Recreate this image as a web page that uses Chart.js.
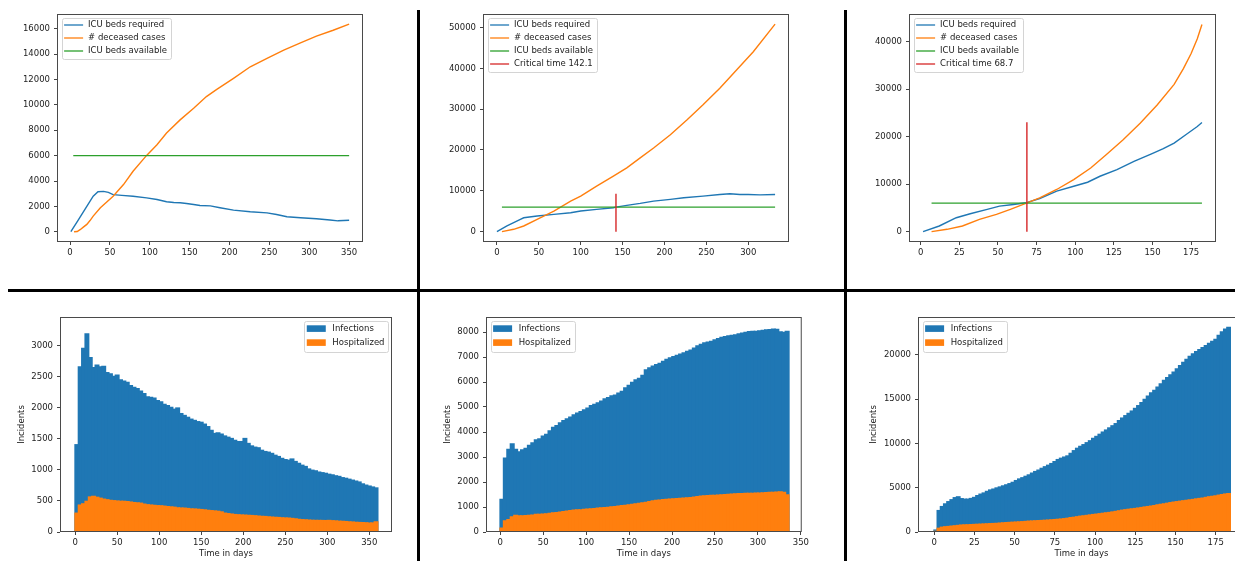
<!DOCTYPE html>
<html>
<head>
<meta charset="utf-8">
<script src="https://cdn.jsdelivr.net/npm/chart.js@4.4.1/dist/chart.umd.min.js"></script>
<style>
  html, body { margin: 0; padding: 0; background: #fff; overflow: hidden; }
  #page { position: relative; width: 1235px; height: 561px; overflow: hidden; background: #fff; }
  #page canvas { position: absolute; }
  .rule { position: absolute; background: #000; }
</style>
</head>
<body>
<div id="page">
  <canvas id="icuA"></canvas>
  <canvas id="icuB"></canvas>
  <canvas id="icuC"></canvas>
  <canvas id="histA"></canvas>
  <canvas id="histB"></canvas>
  <canvas id="histC"></canvas>
  <div class="rule" style="left:417px;top:10px;width:3px;height:551px"></div>
  <div class="rule" style="left:844px;top:10px;width:3px;height:551px"></div>
  <div class="rule" style="left:8px;top:289px;width:1227px;height:3px"></div>
</div>
<script>
// --- ICU SCENARIO A ---
const icuADays = [1, 10, 20, 29, 35, 42, 48, 54, 65, 79, 96, 109, 121, 130, 138, 146, 155, 163, 176, 188, 205, 226, 247, 259, 272, 289, 309, 326, 336, 350];
const icuA = [0, 900, 1900, 2800, 3150, 3180, 3100, 2930, 2870, 2800, 2670, 2540, 2360, 2300, 2280, 2230, 2150, 2070, 2040, 1890, 1700, 1570, 1490, 1360, 1180, 1100, 1020, 920, 860, 900];
const deadADays = [5, 9, 13, 17, 21, 25, 29, 38, 46, 54, 67, 79, 96, 109, 121, 138, 155, 171, 184, 205, 226, 247, 268, 289, 309, 330, 350];
const deadA = [0, 20, 180, 380, 580, 880, 1230, 1890, 2350, 2800, 3720, 4770, 6020, 6860, 7780, 8820, 9740, 10660, 11230, 12100, 13010, 13670, 14320, 14900, 15420, 15890, 16370];
const bedsADays = [4, 350];

// --- ICU SCENARIO B ---
const icuBDays = [0, 12, 28, 32, 48, 68, 88, 100, 119, 139, 142, 155, 171, 187, 207, 223, 246, 266, 278, 290, 300, 314, 332];
const icuB = [0, 1380, 3000, 3400, 3820, 4230, 4630, 5040, 5450, 5850, 6000, 6420, 6910, 7480, 7890, 8290, 8700, 9110, 9270, 9110, 9110, 9000, 9110];
const deadBDays = [6, 20, 32, 48, 68, 88, 100, 119, 139, 155, 171, 187, 207, 227, 246, 266, 286, 306, 332];
const deadB = [0, 570, 1380, 3000, 5040, 7480, 8700, 11140, 13580, 15610, 18050, 20490, 23740, 27400, 31060, 35120, 39590, 44070, 50810];
const bedsBDays = [6, 332];
const criticalB = 142.1;
const criticalBTop = 9300;

// --- ICU SCENARIO C ---
const icuCDays = [1.5, 12, 23, 32, 43, 51, 60, 68, 77, 88, 99, 108, 116, 127, 138, 149, 157, 164, 172, 179, 182];
const icuC = [0, 1190, 2930, 3770, 4680, 5380, 5720, 6070, 6980, 8520, 9560, 10400, 11660, 13050, 14800, 16330, 17450, 18640, 20500, 22130, 22970];
const deadCDays = [7, 17, 27, 38, 49, 58, 68, 77, 88, 99, 110, 120, 131, 142, 153, 164, 170, 175, 179, 182];
const deadC = [0, 490, 1190, 2580, 3630, 4680, 5930, 7120, 8870, 10960, 13400, 16200, 19340, 22830, 26670, 31000, 34300, 37500, 40600, 43600];
const bedsCDays = [7, 182];
const criticalC = 68.7;
const criticalCTop = 23000;

const bedsAvailable = 6000;

// --- DAILY INCIDENTS, SCENARIO A (4-day bins) ---
const histADays = [2, 6, 10, 14, 18, 22, 26, 30, 34, 38, 42, 46, 50, 54, 58, 62, 66, 70, 74, 78, 82, 86, 90, 94, 98, 102, 106, 110, 114, 118, 122, 126, 130, 134, 138, 142, 146, 150, 154, 158, 162, 166, 170, 174, 178, 182, 186, 190, 194, 198, 202, 206, 210, 214, 218, 222, 226, 230, 234, 238, 242, 246, 250, 254, 258, 262, 266, 270, 274, 278, 282, 286, 290, 294, 298, 302, 306, 310, 314, 318, 322, 326, 330, 334, 338, 342, 346, 350, 354, 358];
const infectA = [
  1400, 2650, 2950, 3180, 2800, 2640, 2680, 2650, 2660, 2560,
  2540, 2500, 2520, 2440, 2420, 2400, 2350, 2320, 2300, 2260,
  2220, 2170, 2160, 2150, 2110, 2090, 2050, 2030, 2000, 1970,
  1990, 1900, 1870, 1840, 1810, 1790, 1770, 1760, 1730, 1690,
  1630, 1580, 1590, 1570, 1540, 1520, 1500, 1470, 1450, 1450,
  1500, 1420, 1380, 1360, 1350, 1310, 1290, 1280, 1260, 1230,
  1210, 1180, 1160, 1150, 1170, 1130, 1100, 1070, 1050, 1010,
  990, 980, 960, 950, 940, 925, 915, 900, 890, 870,
  860, 845, 830, 815, 800, 770, 750, 735, 720, 705];
const hospA = [
  300, 430, 450, 490, 560, 570, 555, 540, 525, 515,
  505, 500, 495, 490, 490, 485, 478, 470, 465, 460,
  445, 435, 430, 425, 420, 418, 412, 405, 400, 395,
  385, 382, 380, 375, 368, 366, 362, 358, 352, 345,
  340, 335, 330, 320, 300, 292, 285, 278, 274, 270,
  268, 264, 262, 258, 252, 248, 246, 240, 236, 232,
  230, 225, 222, 220, 215, 208, 200, 195, 192, 188,
  185, 183, 183, 182, 180, 183, 178, 175, 170, 168,
  165, 160, 157, 152, 150, 148, 145, 140, 142, 160];

// --- DAILY INCIDENTS, SCENARIO B (4-day bins) ---
const histBDays = [2, 6, 10, 14, 18, 22, 26, 30, 34, 38, 42, 46, 50, 54, 58, 62, 66, 70, 74, 78, 82, 86, 90, 94, 98, 102, 106, 110, 114, 118, 122, 126, 130, 134, 138, 142, 146, 150, 154, 158, 162, 166, 170, 174, 178, 182, 186, 190, 194, 198, 202, 206, 210, 214, 218, 222, 226, 230, 234, 238, 242, 246, 250, 254, 258, 262, 266, 270, 274, 278, 282, 286, 290, 294, 298, 302, 306, 310, 314, 318, 322, 326, 330, 334];
const infectB = [
  1300, 2950, 3300, 3520, 3300, 3200, 3280, 3340, 3460, 3560,
  3680, 3720, 3830, 3900, 4040, 4180, 4250, 4360, 4450, 4520,
  4590, 4680, 4750, 4810, 4880, 4950, 5050, 5100, 5160, 5230,
  5320, 5370, 5440, 5470, 5550, 5620, 5760, 5860, 5980, 6080,
  6140, 6260, 6480, 6560, 6630, 6690, 6740, 6820, 6900, 6960,
  7010, 7060, 7110, 7160, 7220, 7270, 7350, 7440, 7500, 7560,
  7590, 7620, 7680, 7730, 7780, 7810, 7840, 7860, 7880, 7920,
  7950, 7980, 8010, 8020, 8020, 8040, 8060, 8080, 8090, 8110,
  8100, 8000, 7980, 8020];
const hospB = [
  150, 440, 490, 600, 660, 640, 640, 645, 655, 670,
  695, 700, 705, 720, 740, 755, 770, 790, 805, 830,
  850, 870, 880, 880, 895, 910, 920, 930, 945, 960,
  965, 975, 995, 1010, 1030, 1045, 1055, 1075, 1095, 1115,
  1140, 1160, 1180, 1210, 1240, 1255, 1270, 1290, 1300, 1310,
  1320, 1330, 1340, 1350, 1360, 1370, 1390, 1410, 1430, 1440,
  1450, 1455, 1460, 1470, 1480, 1490, 1500, 1510, 1520, 1525,
  1530, 1535, 1540, 1540, 1545, 1550, 1560, 1570, 1575, 1580,
  1590, 1600, 1580, 1480];

// --- DAILY INCIDENTS, SCENARIO C (2-day bins) ---
const histCDays = [1, 3, 5, 7, 9, 11, 13, 15, 17, 19, 21, 23, 25, 27, 29, 31, 33, 35, 37, 39, 41, 43, 45, 47, 49, 51, 53, 55, 57, 59, 61, 63, 65, 67, 69, 71, 73, 75, 77, 79, 81, 83, 85, 87, 89, 91, 93, 95, 97, 99, 101, 103, 105, 107, 109, 111, 113, 115, 117, 119, 121, 123, 125, 127, 129, 131, 133, 135, 137, 139, 141, 143, 145, 147, 149, 151, 153, 155, 157, 159, 161, 163, 165, 167, 169, 171, 173, 175, 177, 179, 181, 183];
const infectC = [
  200, 2400, 2850, 3150, 3400, 3620, 3850, 3950, 3740, 3680,
  3680, 3760, 3880, 4080, 4250, 4380, 4560, 4720, 4820, 4950,
  5060, 5180, 5300, 5430, 5580, 5780, 5960, 6100, 6260, 6420,
  6620, 6800, 6960, 7160, 7340, 7510, 7700, 7920, 8150, 8300,
  8430, 8560, 8850, 9150, 9420, 9640, 9830, 10050, 10270, 10540,
  10760, 11000, 11250, 11480, 11720, 11960, 12200, 12540, 12830, 13100,
  13360, 13620, 13920, 14230, 14580, 14940, 15300, 15660, 15960, 16320,
  16700, 17080, 17400, 17700, 18020, 18380, 18750, 19120, 19460, 19780,
  20080, 20330, 20560, 20780, 21000, 21250, 21480, 21720, 22150, 22550,
  22850, 23050];
const hospC = [
  50, 400, 520, 570, 600, 640, 680, 720, 760, 780,
  790, 810, 830, 845, 860, 880, 900, 920, 935, 950,
  980, 1010, 1040, 1060, 1080, 1100, 1120, 1140, 1170, 1200,
  1220, 1240, 1260, 1280, 1300, 1320, 1350, 1380, 1410, 1440,
  1480, 1530, 1600, 1640, 1700, 1760, 1800, 1850, 1900, 1950,
  1990, 2040, 2090, 2140, 2180, 2240, 2300, 2370, 2440, 2490,
  2540, 2590, 2630, 2680, 2740, 2800, 2850, 2900, 2960, 3040,
  3100, 3150, 3220, 3290, 3350, 3400, 3450, 3500, 3550, 3600,
  3650, 3710, 3760, 3800, 3880, 3950, 4000, 4050, 4130, 4200,
  4260, 4310];

// --- TICK LABELS ---
const daysTo350 = [0, 50, 100, 150, 200, 250, 300, 350];
const daysTo300 = [0, 50, 100, 150, 200, 250, 300];
const daysTo175 = [0, 25, 50, 75, 100, 125, 150, 175];
const ticksIcuA = [0, 2000, 4000, 6000, 8000, 10000, 12000, 14000, 16000];
const ticksIcuB = [0, 10000, 20000, 30000, 40000, 50000];
const ticksIcuC = [0, 10000, 20000, 30000, 40000];
const ticksHistA = [0, 500, 1000, 1500, 2000, 2500, 3000];
const ticksHistB = [0, 1000, 2000, 3000, 4000, 5000, 6000, 7000, 8000];
const ticksHistC = [0, 5000, 10000, 15000, 20000];

// --- STYLE ---
const BLUE = '#1f77b4', ORANGE = '#ff7f0e', GREEN = '#2ca02c', RED = '#d62728';
const FONT_PX = 8.5;
const FONT = { family: '"DejaVu Sans", sans-serif', size: FONT_PX };
const INK = '#222';

const pts = (xs, ys) => xs.map((x, i) => ({ x: x, y: ys[i] }));
const flat = (xs, v) => xs.map(x => ({ x: x, y: v }));

// axes box around the plot area
const frame = {
  id: 'frame',
  afterDatasetsDraw(chart) {
    const { ctx, chartArea: a } = chart;
    ctx.save();
    ctx.strokeStyle = '#4a4a4a';
    ctx.lineWidth = 1;
    ctx.strokeRect(a.left + 0.5, a.top + 0.5, a.right - a.left - 1, a.bottom - a.top - 1);
    ctx.restore();
  }
};

// boxed legend drawn inside the plot area
const boxLegend = {
  id: 'boxLegend',
  afterDraw(chart, args, opts) {
    const { ctx, chartArea: a } = chart;
    const sets = chart.data.datasets;
    const isBar = chart.config.type === 'bar';
    const pitch = isBar ? 14 : 13;
    const first = isBar ? 7.3 : 6.7;
    const handle = 19, gap = isBar ? 6.6 : 5;
    ctx.save();
    ctx.font = FONT_PX + 'px "DejaVu Sans"';
    const textW = Math.max(...sets.map(d => ctx.measureText(d.label).width));
    const w = 2.6 + handle + gap + textW + 4;
    const h = first + (sets.length - 1) * pitch + (isBar ? 9.4 : 8);
    const x = opts.corner === 'tr' ? a.right - 3.5 - w : a.left + 4.5;
    const y = a.top + 4.3;
    ctx.beginPath();
    ctx.roundRect(Math.round(x) + 0.5, Math.round(y) + 0.5, Math.round(w), Math.round(h), 2);
    ctx.fillStyle = 'rgba(255,255,255,0.8)';
    ctx.fill();
    ctx.strokeStyle = '#d4d4d4';
    ctx.lineWidth = 1;
    ctx.stroke();
    sets.forEach((d, i) => {
      const cy = y + first + i * pitch;
      if (isBar) {
        ctx.fillStyle = d.backgroundColor;
        ctx.fillRect(x + 2.6, cy - 3.3, handle, 6.6);
      } else {
        ctx.strokeStyle = d.borderColor;
        ctx.lineWidth = 1.3;
        ctx.beginPath();
        ctx.moveTo(x + 2.6, cy);
        ctx.lineTo(x + 2.6 + handle, cy);
        ctx.stroke();
      }
      ctx.fillStyle = INK;
      ctx.textAlign = 'left';
      ctx.textBaseline = 'middle';
      ctx.fillText(d.label, x + 2.6 + handle + gap, cy);
    });
    ctx.restore();
  }
};

function axis(range, tickValues, fitSize, horizontal, title) {
  return {
    type: 'linear',
    min: range[0],
    max: range[1],
    offset: false,
    afterBuildTicks: scale => { scale.ticks = tickValues.map(v => ({ value: v })); },
    afterFit: scale => { if (horizontal) scale.height = fitSize; else scale.width = fitSize; },
    grid: { drawOnChartArea: false, drawTicks: true, tickLength: 3, tickColor: '#444', lineWidth: 1, offset: false },
    border: { display: false },
    ticks: {
      font: FONT, color: INK, padding: horizontal ? 3 : 4,
      autoSkip: false, maxRotation: 0, callback: v => String(v)
    },
    title: title
      ? { display: true, text: title, font: FONT, color: INK, padding: horizontal ? { top: 0, bottom: 2 } : 0 }
      : { display: false }
  };
}

function plot(id, box, type, datasets, sc, corner) {
  const cv = document.getElementById(id);
  cv.width = box.w;
  cv.height = box.h;
  cv.style.left = box.x + 'px';
  cv.style.top = box.y + 'px';
  return new Chart(cv, {
    type: type,
    data: { datasets: datasets },
    options: {
      responsive: false,
      animation: false,
      devicePixelRatio: 1,
      layout: { padding: { left: 0, top: box.padTop, right: box.padRight, bottom: 0 } },
      elements: { point: { radius: 0 } },
      datasets: { bar: { barPercentage: 1, categoryPercentage: 1, grouped: false, inflateAmount: 0.8 } },
      plugins: { legend: { display: false }, tooltip: { enabled: false }, boxLegend: { corner: corner } },
      scales: {
        x: axis(sc.xRange, sc.xTicks, box.xH, true, sc.xTitle),
        y: axis(sc.yRange, sc.yTicks, box.yW, false, sc.yTitle)
      }
    },
    plugins: [frame, boxLegend]
  });
}

function line(label, color, data, order) {
  return { label: label, data: data, borderColor: color, backgroundColor: color, borderWidth: 1.4, tension: 0, order: order };
}

function bars(label, color, xs, ys, order) {
  return {
    label: label, data: pts(xs, ys), backgroundColor: color, borderWidth: 0,
    barPercentage: 1, categoryPercentage: 1, grouped: false, inflateAmount: 0.8, order: order
  };
}

// --- TOP ROW: ICU demand ---
plot('icuA', { x: 0, y: 0, w: 366, h: 270, padTop: 14, padRight: 3, yW: 57, xH: 28 }, 'line', [
  line('ICU beds required', BLUE, pts(icuADays, icuA), 3),
  line('# deceased cases', ORANGE, pts(deadADays, deadA), 2),
  line('ICU beds available', GREEN, flat(bedsADays, bedsAvailable), 1)
], { xRange: [-16.4, 367.4], xTicks: daysTo350, yRange: [-810, 17170], yTicks: ticksIcuA }, 'tl');

plot('icuB', { x: 425, y: 0, w: 367, h: 270, padTop: 14, padRight: 3, yW: 58, xH: 28 }, 'line', [
  line('ICU beds required', BLUE, pts(icuBDays, icuB), 3),
  line('# deceased cases', ORANGE, pts(deadBDays, deadB), 2),
  line('ICU beds available', GREEN, flat(bedsBDays, bedsAvailable), 1),
  line('Critical time ' + criticalB, RED, [{ x: criticalB, y: 0 }, { x: criticalB, y: criticalBTop }], 0)
], { xRange: [-16.6, 348.6], xTicks: daysTo300, yRange: [-2540, 53300], yTicks: ticksIcuB }, 'tl');

plot('icuC', { x: 850, y: 0, w: 369, h: 270, padTop: 14, padRight: 3, yW: 59, xH: 28 }, 'line', [
  line('ICU beds required', BLUE, pts(icuCDays, icuC), 3),
  line('# deceased cases', ORANGE, pts(deadCDays, deadC), 2),
  line('ICU beds available', GREEN, flat(bedsCDays, bedsAvailable), 1),
  line('Critical time ' + criticalC, RED, [{ x: criticalC, y: 0 }, { x: criticalC, y: criticalCTop }], 0)
], { xRange: [-7.6, 191.1], xTicks: daysTo175, yRange: [-2180, 45810], yTicks: ticksIcuC }, 'tl');

// --- BOTTOM ROW: daily incidents ---
plot('histA', { x: 17, y: 290, w: 377, h: 271, padTop: 27, padRight: 2, yW: 43, xH: 29 }, 'bar', [
  bars('Infections', BLUE, histADays, infectA, 2),
  bars('Hospitalized', ORANGE, histADays, hospA, 1)
], { xRange: [-18, 377], xTicks: daysTo350, yRange: [0, 3455], yTicks: ticksHistA, xTitle: 'Time in days', yTitle: 'Incidents' }, 'tr');

plot('histB', { x: 443, y: 290, w: 369, h: 271, padTop: 27, padRight: 2, yW: 43, xH: 29 }, 'bar', [
  bars('Infections', BLUE, histBDays, infectB, 2),
  bars('Hospitalized', ORANGE, histBDays, hospB, 1)
], { xRange: [-16.5, 351], xTicks: daysTo350, yRange: [0, 8600], yTicks: ticksHistB, xTitle: 'Time in days', yTitle: 'Incidents' }, 'tl');

plot('histC', { x: 869, y: 290, w: 378, h: 271, padTop: 27, padRight: 2, yW: 49, xH: 29 }, 'bar', [
  bars('Infections', BLUE, histCDays, infectC, 2),
  bars('Hospitalized', ORANGE, histCDays, hospC, 1)
], { xRange: [-10, 193.2], xTicks: daysTo175, yRange: [0, 24250], yTicks: ticksHistC, xTitle: 'Time in days', yTitle: 'Incidents' }, 'tl');
</script>
</body>
</html>
